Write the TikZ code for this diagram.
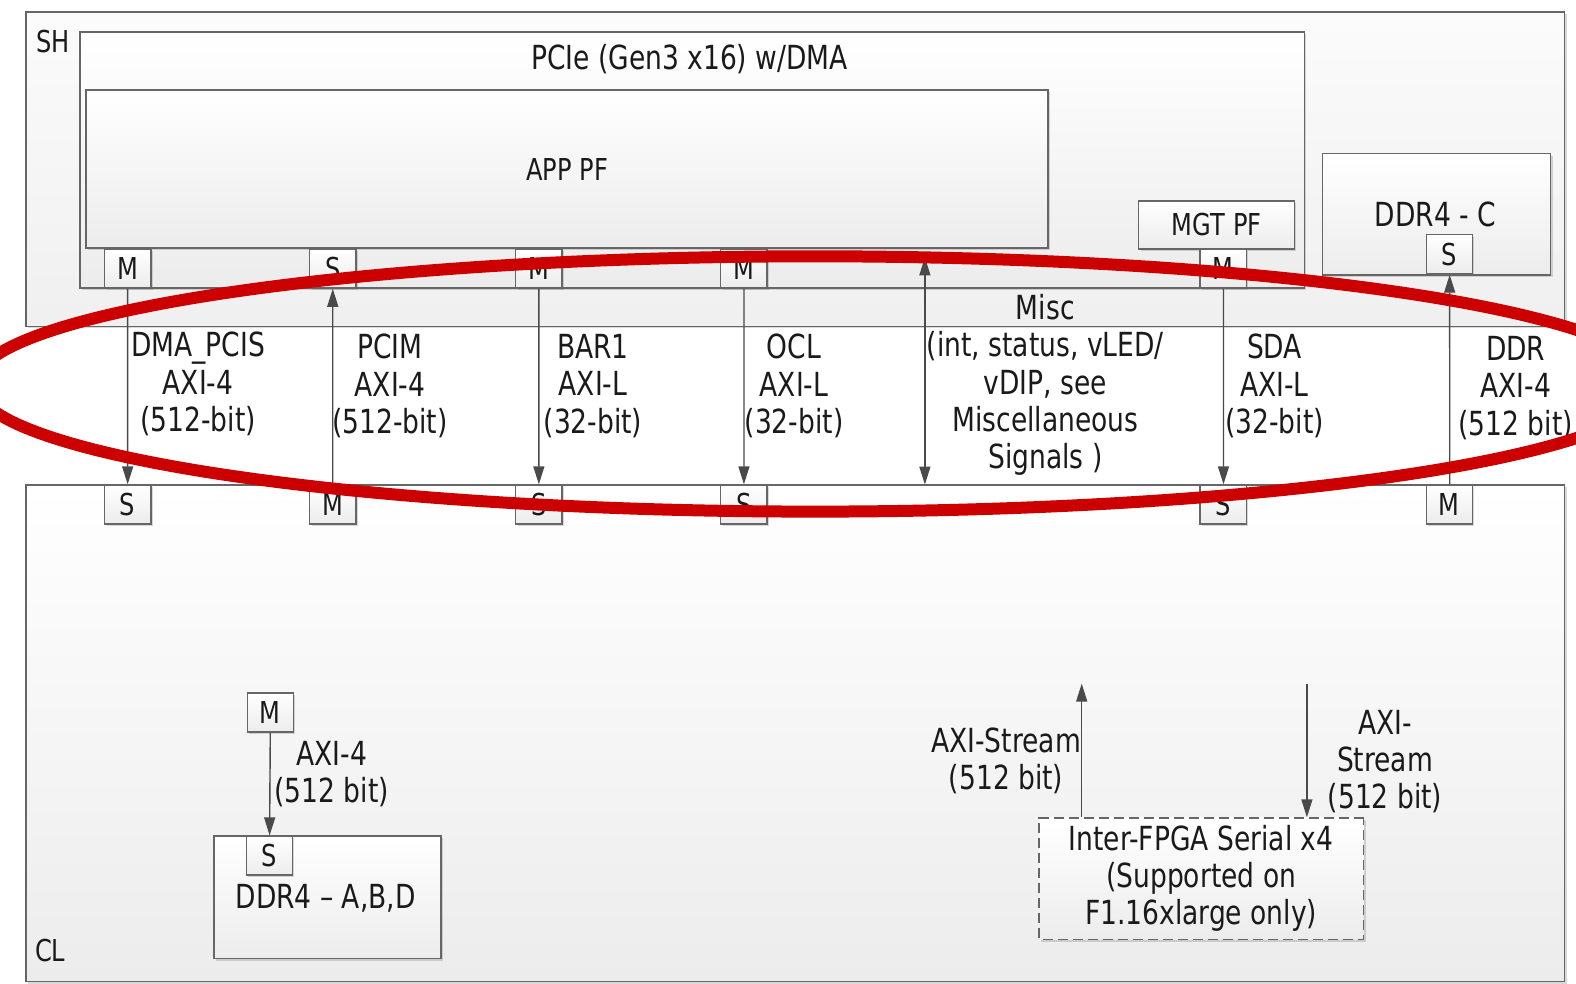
\documentclass[tikz,border=0pt]{standalone}
\usepackage{fontspec}
\setmainfont{DejaVu Sans}[FakeStretch=0.8]
\usetikzlibrary{arrows.meta, positioning, shadows}

\definecolor{linegray}{HTML}{666666}
\definecolor{arrowgray}{HTML}{4A4A4A}
\definecolor{boxbot}{HTML}{ECECEC}
\definecolor{txt}{HTML}{1A1A1A}
\definecolor{ovalred}{HTML}{CC0000}

\begin{document}
\begin{tikzpicture}[x=1pt, y=-1pt, scale=1.0051, transform shape,
    box/.style={draw=linegray, line width=1.5pt, top color=white, bottom color=boxbot, inner sep=0pt, anchor=north west,
        drop shadow={shadow xshift=2pt, shadow yshift=-2pt, opacity=0.25, fill=black!60}},
    port/.style={box, anchor=center, minimum width=46, minimum height=39, font=\fontsize{30}{34}\selectfont, text=txt},
    lbl/.style={align=center, font=\fontsize{33}{37}\selectfont, text=txt, inner sep=0pt},
    small/.style={lbl, font=\fontsize{30}{34}\selectfont},
    link/.style={draw=arrowgray, line width=1.4pt, -{Triangle[length=18pt, width=11pt]}},
    both/.style={link, {Triangle[length=18pt, width=11pt]}-{Triangle[length=18pt, width=11pt]}},
    oval/.style={draw=ovalred, line width=12pt}
]
\useasboundingbox (0,0) rectangle (1568,979);
\fill[white] (0,0) rectangle (1568,979);

% Shell
\node[box, minimum width=1531, minimum height=313, top color=gray!3, bottom color=gray!12] (sh) at (25,11) {};
\node[small] (shname) at (53,41) {SH};
\node[box, minimum width=1218, minimum height=255] (pcie) at (79,31) {};
\node[lbl] (pcietitle) at (686,59) {PCIe (Gen3 x16) w/DMA};
\node[box, minimum width=957, minimum height=157] (apppf) at (85,89) {};
\node[small] (appname) at (apppf.center) {APP PF};
\node[box, minimum width=155, minimum height=48] (mgtpf) at (1132,199) {};
\node[small] (mgtname) at (mgtpf.center) {MGT PF};
\node[box, minimum width=227, minimum height=121] (ddrc) at (1315,152) {};
\node[lbl] (ddrcname) at (1428,213) {DDR4 - C};

% ports of the shell
\node[port] (dmam) at (127,267) {M};
\node[port] (pcims) at (331,267) {S};
\node[port] (bar1m) at (536,267) {M};
\node[port] (oclm) at (740,267) {M};
\node[port] (sdam) at (1217,267) {M};
\node[port] (ddrcs) at (1442,253) {S};

% Custom logic
\node[box, minimum width=1531, minimum height=494] (cl) at (25,482) {};
\node[small] (clname) at (50,946) {CL};

% ports of the custom logic
\node[port] (dmas) at (127,502) {S};
\node[port] (pcimm) at (331,502) {M};
\node[port] (bar1s) at (536,502) {S};
\node[port] (ocls) at (740,502) {S};
\node[port] (sdas) at (1217,502) {S};
\node[port] (ddrcm) at (1442,502) {M};

% interfaces
\draw[link] (dmam) -- (dmas);
\draw[link] (pcimm) -- (pcims);
\draw[link] (bar1m) -- (bar1s);
\draw[link] (oclm) -- (ocls);
\draw[link] (sdam) -- (sdas);
\draw[link] (ddrcm) -- (ddrcs);
\coordinate (misctop) at (920,256);
\coordinate (miscbot) at (920,482);
\draw[both] (misctop) -- (miscbot);

\node[lbl] (dmalbl) at (197,382) {DMA\_PCIS\\AXI-4\\(512-bit)};
\node[lbl] (pcimlbl) at (388,384) {PCIM\\AXI-4\\(512-bit)};
\node[lbl] (bar1lbl) at (590,384) {BAR1\\AXI-L\\(32-bit)};
\node[lbl] (ocllbl) at (790,384) {OCL\\AXI-L\\(32-bit)};
\node[lbl] (misclbl) at (1040,383) {Misc\\(int, status, vLED/\\vDIP, see\\Miscellaneous\\Signals )};
\node[lbl] (sdalbl) at (1268,384) {SDA\\AXI-L\\(32-bit)};
\node[lbl] (ddrlbl) at (1508,386) {DDR\\AXI-4\\(512 bit)};

% DDR4 A,B,D
\node[port] (ddram) at (269,709) {M};
\node[box, minimum width=226, minimum height=122] (ddrabd) at (212,831) {};
\node[port, anchor=north] (ddras) at (268,831) {S};
\node[lbl] (ddrabdname) at (324,894) {DDR4 – A,B,D};
\draw[link] (ddram) -- (ddras);
\node[lbl] (ddralbl) at (330,770) {AXI-4\\(512 bit)};

% Inter-FPGA serial
\node[box, minimum width=323, minimum height=121, dash pattern=on 10pt off 5pt] (serial) at (1033,813) {};
\node[lbl] (seriallbl) at (1195,874) {Inter-FPGA Serial x4\\(Supported on\\F1.16xlarge only)};
\coordinate (rxtop) at (1076,680);
\coordinate (txtop) at (1300,680);
\draw[link] (serial.north -| rxtop) -- (rxtop);
\draw[link] (txtop) -- (serial.north -| txtop);
\node[lbl] (rxlbl) at (1001,757) {AXI-Stream\\(512 bit)};
\node[lbl] (txlbl) at (1378,758) {AXI-\\Stream\\(512 bit)};

% highlight
\draw[oval] (811,382) ellipse [x radius=836, y radius=127];
\end{tikzpicture}
\end{document}
